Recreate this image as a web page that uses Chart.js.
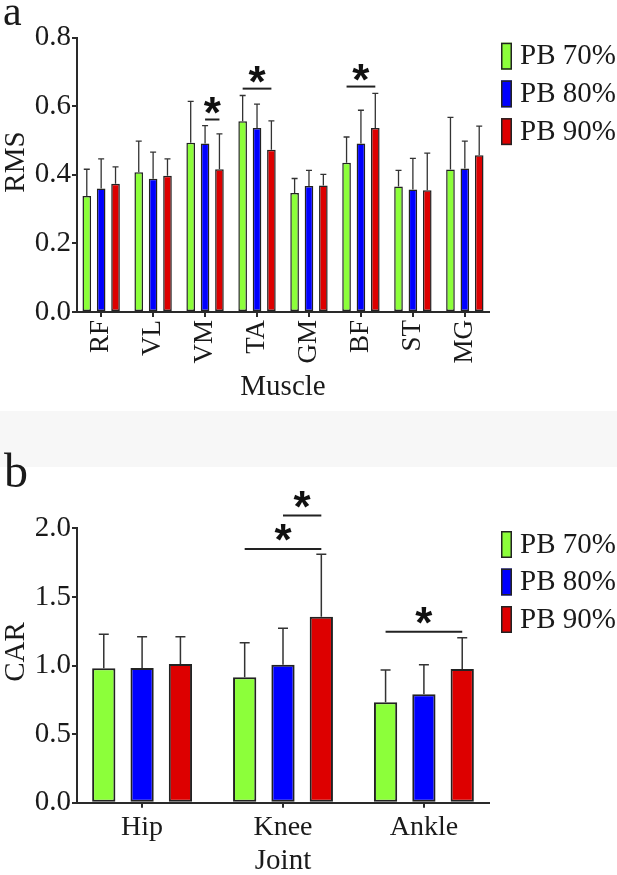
<!DOCTYPE html>
<html>
<head>
<meta charset="utf-8">
<script src="https://cdn.jsdelivr.net/npm/chart.js@4.4.1/dist/chart.umd.min.js"></script>
<style>
  html, body { margin: 0; padding: 0; background: #fff; overflow: hidden; }
  #wrap { position: relative; width: 617px; height: 875px; }
  #band { position: absolute; left: 0; top: 411px; width: 617px; height: 56px; background: #f7f7f7; }
  canvas { position: absolute; left: 0; }
  #chartA { top: 0; }
  #chartB { top: 440px; }
  .warm { position: absolute; left: -999px; top: 0; font-family: "Liberation Serif"; }
  .warm2 { position: absolute; left: -999px; top: 0; font-family: "Liberation Sans"; font-weight: bold; }
</style>
</head>
<body>
<div id="wrap">
  <div id="band"></div>
  <canvas id="chartA" width="617" height="410"></canvas>
  <canvas id="chartB" width="617" height="450"></canvas>
</div>
<span class="warm">RMS 0.8 PB</span><span class="warm2">*</span>
<script>
// --- panel a: RMS per muscle ---
const muscles = ['RF', 'VL', 'VM', 'TA', 'GM', 'BF', 'ST', 'MG'];
const rms70 = [0.338, 0.407, 0.493, 0.556, 0.347, 0.435, 0.366, 0.415];
const rms80 = [0.360, 0.388, 0.491, 0.536, 0.367, 0.491, 0.357, 0.418];
const rms90 = [0.374, 0.397, 0.416, 0.473, 0.369, 0.536, 0.355, 0.457];
const rmsSd70 = [0.078, 0.091, 0.121, 0.075, 0.042, 0.075, 0.047, 0.152];
const rmsSd80 = [0.086, 0.078, 0.052, 0.070, 0.046, 0.097, 0.091, 0.080];
const rmsSd90 = [0.049, 0.049, 0.103, 0.084, 0.032, 0.101, 0.108, 0.085];
// significance brackets: category, from group, to group, height
const rmsSig = [
  { cat: 2, from: 1, to: 2, y: 0.561 },
  { cat: 3, from: 0, to: 2, y: 0.651 },
  { cat: 5, from: 0, to: 2, y: 0.657 }
];

// --- panel b: CAR per joint ---
const joints = ['Hip', 'Knee', 'Ankle'];
const car70 = [0.980, 0.914, 0.732];
const car80 = [0.982, 1.006, 0.790];
const car90 = [1.011, 1.356, 0.974];
const carSd70 = [0.247, 0.252, 0.235];
const carSd80 = [0.228, 0.265, 0.216];
const carSd90 = [0.199, 0.454, 0.229];
const carSig = [
  { cat: 1, from: 0, to: 2, y: 1.849 },
  { cat: 1, from: 1, to: 2, y: 2.093 },
  { cat: 2, from: 0, to: 2, y: 1.246 }
];

const groups = ['PB 70%', 'PB 80%', 'PB 90%'];
const colors = ['#8CFF3A', '#0000FF', '#DD0000'];

const SERIF = '"Liberation Serif", "DejaVu Serif", serif';
const INK = '#1a1a1a';
const AXIS = '#2a2a2a';

// mean + SD whiskers, upward only
const errorBars = {
  id: 'errorBars',
  afterDatasetsDraw(chart, args, opts) {
    const { ctx } = chart;
    const y = chart.scales.y;
    ctx.save();
    ctx.strokeStyle = opts.color;
    ctx.lineWidth = opts.width;
    chart.data.datasets.forEach((ds, i) => {
      chart.getDatasetMeta(i).data.forEach((bar, j) => {
        const top = y.getPixelForValue(ds.data[j] + ds.sd[j]);
        ctx.beginPath();
        ctx.moveTo(bar.x, bar.y);
        ctx.lineTo(bar.x, top);
        ctx.moveTo(bar.x - opts.cap / 2, top);
        ctx.lineTo(bar.x + opts.cap / 2, top);
        ctx.stroke();
      });
    });
    ctx.restore();
  }
};

// panel letter, y title, significance stars and the legend
const panelExtras = {
  id: 'panelExtras',
  afterDraw(chart, args, o) {
    const { ctx } = chart;
    const y = chart.scales.y;
    ctx.save();
    ctx.fillStyle = INK;
    ctx.font = `${o.letterSize}px ${SERIF}`;
    ctx.textAlign = 'left';
    ctx.textBaseline = 'alphabetic';
    ctx.fillText(o.letter, o.letterX, o.letterY);

    ctx.save();
    ctx.translate(o.yTitleX, o.yTitleY);
    ctx.rotate(-Math.PI / 2);
    ctx.font = `29px ${SERIF}`;
    ctx.textAlign = 'center';
    ctx.textBaseline = 'middle';
    ctx.fillText(o.yTitle, 0, 0);
    ctx.restore();

    o.sig.forEach(s => {
      const x0 = chart.getDatasetMeta(s.from).data[s.cat].x;
      const x1 = chart.getDatasetMeta(s.to).data[s.cat].x;
      const py = y.getPixelForValue(s.y);
      ctx.strokeStyle = '#222';
      ctx.lineWidth = 2;
      ctx.beginPath();
      ctx.moveTo(x0, py);
      ctx.lineTo(x1, py);
      ctx.stroke();
      ctx.fillStyle = '#111';
      ctx.font = `bold 44px "Liberation Sans", Arial, sans-serif`;
      ctx.textAlign = 'center';
      ctx.textBaseline = 'alphabetic';
      ctx.fillText('*', (x0 + x1) / 2, py - o.starGap + 24);
    });

    chart.data.datasets.forEach((ds, i) => {
      const top = o.legendTop + i * o.legendStep;
      ctx.fillStyle = ds.backgroundColor;
      ctx.fillRect(501, top, 11, 27);
      ctx.strokeStyle = '#222';
      ctx.lineWidth = 1.5;
      ctx.strokeRect(501.75, top + 0.75, 9.5, 25.5);
      ctx.fillStyle = INK;
      ctx.font = `29px ${SERIF}`;
      ctx.textAlign = 'left';
      ctx.textBaseline = 'middle';
      ctx.fillText(ds.label, 520, top + 14);
    });
    ctx.restore();
  }
};

function makeDatasets(values, sds, barPct, catPct, border) {
  return values.map((v, i) => ({
    label: groups[i],
    data: v,
    sd: sds[i],
    backgroundColor: colors[i],
    borderColor: '#222',
    borderWidth: border,
    borderSkipped: false,
    barPercentage: barPct,
    categoryPercentage: catPct
  }));
}

function createChart(el, cfg) {
  return new Chart(el, {
    type: 'bar',
    data: { labels: cfg.labels, datasets: cfg.datasets },
    plugins: [errorBars, panelExtras],
    options: {
      responsive: false,
      animation: false,
      events: [],
      layout: { padding: { top: cfg.top, right: 128, left: 0, bottom: 0 } },
      plugins: {
        legend: { display: false },
        tooltip: { enabled: false },
        errorBars: cfg.err,
        panelExtras: cfg.extras
      },
      scales: {
        x: {
          offset: true,
          grid: { offset: false, drawOnChartArea: false, drawTicks: true, tickLength: 5, color: AXIS, lineWidth: 2 },
          border: { color: AXIS, width: 2 },
          ticks: {
            font: { family: SERIF, size: cfg.xFont }, color: INK, padding: cfg.xPad,
            minRotation: cfg.rot, maxRotation: cfg.rot, autoSkip: false
          },
          title: {
            display: true, text: cfg.xTitle, color: INK,
            font: { family: SERIF, size: 29 }, padding: { top: 0, bottom: cfg.xTitlePad }
          },
          // outer groups sit a little closer to the axis ends than a plain offset gives
          afterBuildTicks: s => {
            if (cfg.edge != null) {
              const n = s.getLabels().length;
              s._startValue = -cfg.edge;
              s._valueRange = n - 1 + 2 * cfg.edge;
            }
          },
          afterFit: s => { s.height = cfg.xHeight; }
        },
        y: {
          min: 0,
          max: cfg.yMax,
          grid: { drawOnChartArea: false, drawTicks: true, tickLength: 5, color: AXIS, lineWidth: 2 },
          border: { color: AXIS, width: 2 },
          ticks: {
            stepSize: cfg.yStep,
            padding: 1,
            color: INK,
            font: { family: SERIF, size: 29 },
            callback: (v, i) => (i % 2 ? '' : v.toFixed(1))
          },
          afterFit: s => { s.width = 77; }
        }
      }
    }
  });
}

function drawAll() {
  createChart(document.getElementById('chartA'), {
    labels: muscles,
    datasets: makeDatasets([rms70, rms80, rms90], [rmsSd70, rmsSd80, rmsSd90], 0.6, 0.83, 1.5),
    top: 37.5,
    yMax: 0.8,
    yStep: 0.1,
    xFont: 27,
    xPad: 3,
    rot: 90,
    edge: 0.465,
    xTitle: 'Muscle',
    xTitlePad: 5.6,
    xHeight: 98,
    err: { color: '#333', width: 1.3, cap: 6 },
    extras: {
      letter: 'a', letterSize: 42, letterX: 3, letterY: 25,
      yTitle: 'RMS', yTitleX: 16, yTitleY: 162,
      sig: rmsSig, starGap: 16,
      legendTop: 42.7, legendStep: 37.7
    }
  });

  createChart(document.getElementById('chartB'), {
    labels: joints,
    datasets: makeDatasets([car70, car80, car90], [carSd70, carSd80, carSd90], 0.607, 0.816, 2),
    top: 88.3,
    yMax: 2.0,
    yStep: 0.25,
    xFont: 28,
    xPad: 3,
    rot: 0,
    edge: 0.462,
    xTitle: 'Joint',
    xTitlePad: 10.9,
    xHeight: 87.3,
    err: { color: '#333', width: 1.5, cap: 10 },
    extras: {
      letter: 'b', letterSize: 48, letterX: 4, letterY: 47,
      yTitle: 'CAR', yTitleX: 16, yTitleY: 212,
      sig: carSig, starGap: 18,
      legendTop: 91, legendStep: 37.5
    }
  });
}

Promise.all([
  document.fonts.load('29px "Liberation Serif"'),
  document.fonts.load('bold 44px "Liberation Sans"')
]).catch(() => {}).then(drawAll);
</script>
</body>
</html>
